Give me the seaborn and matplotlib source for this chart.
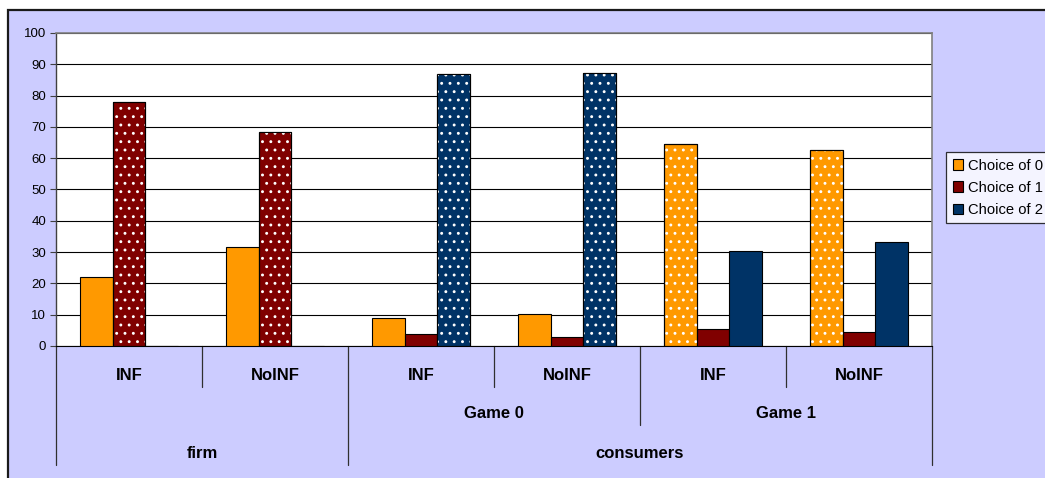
import pandas as pd
import matplotlib
matplotlib.use("Agg")
import matplotlib.pyplot as plt
import matplotlib.transforms as mtransforms
from matplotlib.patches import Rectangle
import seaborn as sns

# data (percent)
roles = ['firm', 'consumers']
games = ['Game 0', 'Game 1']
treatments = ['INF', 'NoINF', 'INF', 'NoINF', 'INF', 'NoINF']
choices = ['Choice of 0', 'Choice of 1', 'Choice of 2']
choice0 = [22.1, 31.7, 8.8, 10.3, 64.5, 62.6]
choice1 = [77.9, 68.3, 3.9, 2.9, 5.4, 4.4]
choice2 = [0.0, 0.0, 87.0, 87.3, 30.3, 33.2]

colors = ['#FF9900', '#800000', '#003366']
bg = '#CCCCFF'

sns.set_theme(style='white')
plt.rcParams['font.family'] = ['Liberation Sans', 'DejaVu Sans']
plt.rcParams['text.color'] = 'black'
plt.rcParams['hatch.linewidth'] = 0.9

keys = [f'g{i}' for i in range(len(treatments))]
rows = []
for name, vals in zip(choices, [choice0, choice1, choice2]):
    for k, v in zip(keys, vals):
        rows.append({'group': k, 'choice': name, 'value': v})
df = pd.DataFrame(rows)

W, H = 1045, 478
fig = plt.figure(figsize=(W / 100, H / 100), dpi=100)
fig.patch.set_facecolor('white')
# lavender chart area with dark frame (right/bottom edges fall outside the picture)
fig.patches.append(Rectangle((8 / W, -0.1), 1.2, 1 - 10 / H + 0.1, transform=fig.transFigure,
                             facecolor=bg, edgecolor='#1a1a1a', lw=1.6, zorder=-5))

ax = fig.add_axes([56 / W, (H - 346) / H, 876 / W, 313 / H])
ax.set_zorder(2)
ax.set_facecolor('white')
sns.barplot(data=df, x='group', y='value', hue='choice', order=keys, hue_order=choices,
            palette=colors, width=2 / 3, edgecolor='black', linewidth=0.8,
            saturation=1, ax=ax, legend=False, zorder=3)

# dotted fill on the tallest bar of each group
allvals = [choice0, choice1, choice2]
for ci, cont in enumerate(ax.containers):
    for gi, bar in enumerate(cont):
        col = [allvals[c][gi] for c in range(3)]
        if col[ci] == max(col) and col[ci] > 0:
            ax.add_patch(Rectangle(bar.get_xy(), bar.get_width(), bar.get_height(),
                                   fill=False, hatch='..', edgecolor='white', lw=0, zorder=4))
            ax.add_patch(Rectangle(bar.get_xy(), bar.get_width(), bar.get_height(),
                                   fill=False, edgecolor='black', lw=0.8, zorder=5))

ax.set_ylim(0, 100)
ax.set_xlim(-0.5, len(keys) - 0.5)
ax.set_yticks(range(0, 101, 10))
ax.yaxis.grid(True, color='black', lw=0.8, zorder=0)
ax.set_axisbelow(True)
ax.tick_params(axis='y', which='both', left=True, length=4, width=0.8, color='#404040',
               labelsize=9.5, pad=3, labelcolor='black')
ax.tick_params(axis='x', bottom=False, labelbottom=False)
ax.set_xlabel('')
ax.set_ylabel('')
for s in ['top', 'right']:
    ax.spines[s].set_color('#808080')
    ax.spines[s].set_linewidth(1.2)
ax.spines['left'].set_color('#404040')
ax.spines['left'].set_linewidth(1.0)
ax.spines['bottom'].set_color('black')
ax.spines['bottom'].set_linewidth(0.8)

# multi-level category axis
tr = mtransforms.blended_transform_factory(ax.transData, ax.transAxes)
d1, d2, d3 = -41 / 313, -79 / 313, -119 / 313
seps = {-0.5: d3, 0.5: d1, 1.5: d3, 2.5: d1, 3.5: d2, 4.5: d1, 5.5: d3}
for x, d in seps.items():
    ax.plot([x, x], [0, d], transform=tr, color='#303030', lw=0.9, clip_on=False)
lab = dict(fontsize=12, fontweight='bold', ha='center', va='center', color='black', transform=tr)
for i, t in enumerate(treatments):
    ax.text(i, -29 / 313, t, **lab)
for x, g in zip([2.5, 4.5], games):
    ax.text(x, -67 / 313, g, **lab)
for x, r in zip([0.5, 3.5], roles):
    ax.text(x, -107 / 313, r, **lab)

handles = [Rectangle((0, 0), 1, 1, facecolor=c, edgecolor='black', lw=0.8) for c in colors]
leg = fig.legend(handles, choices, loc='upper left', bbox_to_anchor=(946 / W, 1 - 152 / H),
                 borderaxespad=0, fontsize=10.6, frameon=True, fancybox=False,
                 handlelength=0.7, handleheight=0.7, handletextpad=0.35,
                 labelspacing=0.55, borderpad=0.45)
leg.set_zorder(3)
for t in leg.get_texts():
    t.set_color('black')
leg.get_frame().set_edgecolor('black')
leg.get_frame().set_linewidth(0.9)
leg.get_frame().set_facecolor('white')

fig.savefig('out.png', dpi=100, facecolor=fig.get_facecolor())
